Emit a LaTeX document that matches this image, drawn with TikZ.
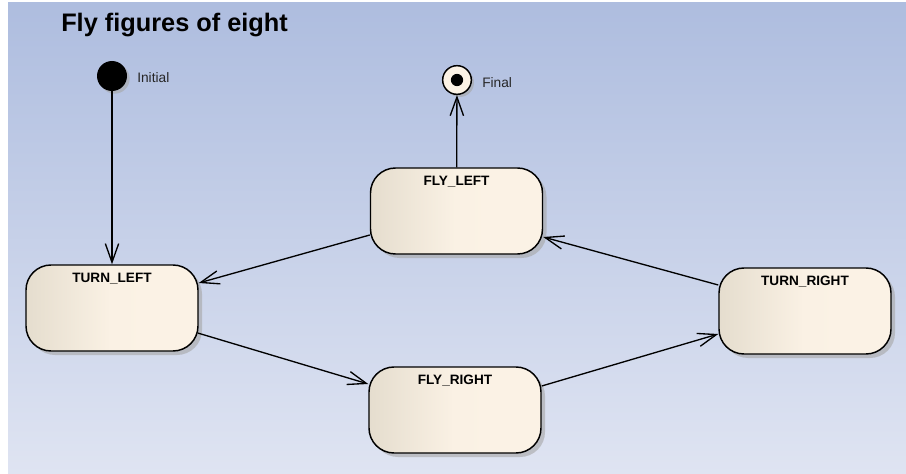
\documentclass[tikz,border=0pt]{standalone}
\usepackage{fontspec}
\setmainfont{Liberation Sans}
\usetikzlibrary{arrows.meta,shadows,calc}
\definecolor{bgtop}{RGB}{174,189,223}
\definecolor{bgbot}{RGB}{223,228,242}
\definecolor{boxL}{RGB}{229,221,206}
\definecolor{boxR}{RGB}{251,242,229}
\begin{document}
\begin{tikzpicture}[x=0.75pt,y=-0.75pt,
  stbox/.style={rectangle, rounded corners=18.75pt, draw=black, line width=1.1pt,
    minimum width=129pt, minimum height=64.5pt, inner sep=0pt,
    left color=boxL, right color=boxR, middle color=boxR!97!boxL,
    drop shadow={shadow xshift=3pt, shadow yshift=-3pt, fill=black!35, opacity=0.6}},
  stname/.style={font=\bfseries\fontsize{10.2}{12}\selectfont, anchor=center, yshift=-11pt},
  pslabel/.style={font=\fontsize{10.3}{12}\selectfont, anchor=west, inner sep=0pt, text=black!85},
  conn/.style={line width=1pt, -{Straight Barb[length=14pt, width=10pt, line width=1pt]}}]
\useasboundingbox (0,0) rectangle (906,474);
\shade[top color=bgtop, bottom color=bgbot] (8,3) rectangle (906,474);

\node[anchor=base west, inner sep=0pt, font=\bfseries\fontsize{19}{22}\selectfont] (title) at (61,32) {Fly figures of eight};

% pseudo-states
\node[circle, fill=black, minimum size=22.5pt, inner sep=0pt,
  drop shadow={shadow xshift=2pt, shadow yshift=-2pt, fill=black!35, opacity=0.6}] (init) at (112,76) {};
\node[pslabel] (initl) at (137,78) {Initial};
\node[circle, draw=black, line width=1.1pt, fill=boxR, minimum size=21.5pt, inner sep=0pt,
  drop shadow={shadow xshift=2pt, shadow yshift=-2pt, fill=black!35, opacity=0.6}] (fin) at (457,80) {};
\fill[black] (fin.center) circle (4.6pt);
\node[pslabel] (finl) at (482,83) {Final};

% states
\node[stbox, label={[stname]north:FLY\_LEFT}] (fl) at (456.5,211) {};
\node[stbox, label={[stname]north:TURN\_LEFT}] (tl) at (112,308) {};
\node[stbox, label={[stname]north:TURN\_RIGHT}] (tr) at (805,311) {};
\node[stbox, label={[stname]north:FLY\_RIGHT}] (fr) at (455,410) {};

% transitions
\draw[conn] (init) -- (tl);
\draw[conn] (fl) -- (fin);
\draw[conn] ($(fl.west)+(0,24)$) -- ($(tl.east)+(0,-25)$);
\draw[conn] ($(tl.east)+(-1,25)$) -- ($(fr.west)+(0,-26)$);
\draw[conn] ($(fr.east)+(0,-24)$) -- ($(tr.west)+(0,23)$);
\draw[conn] ($(tr.west)+(0,-26)$) -- ($(fl.east)+(0,26)$);
\end{tikzpicture}
\end{document}
